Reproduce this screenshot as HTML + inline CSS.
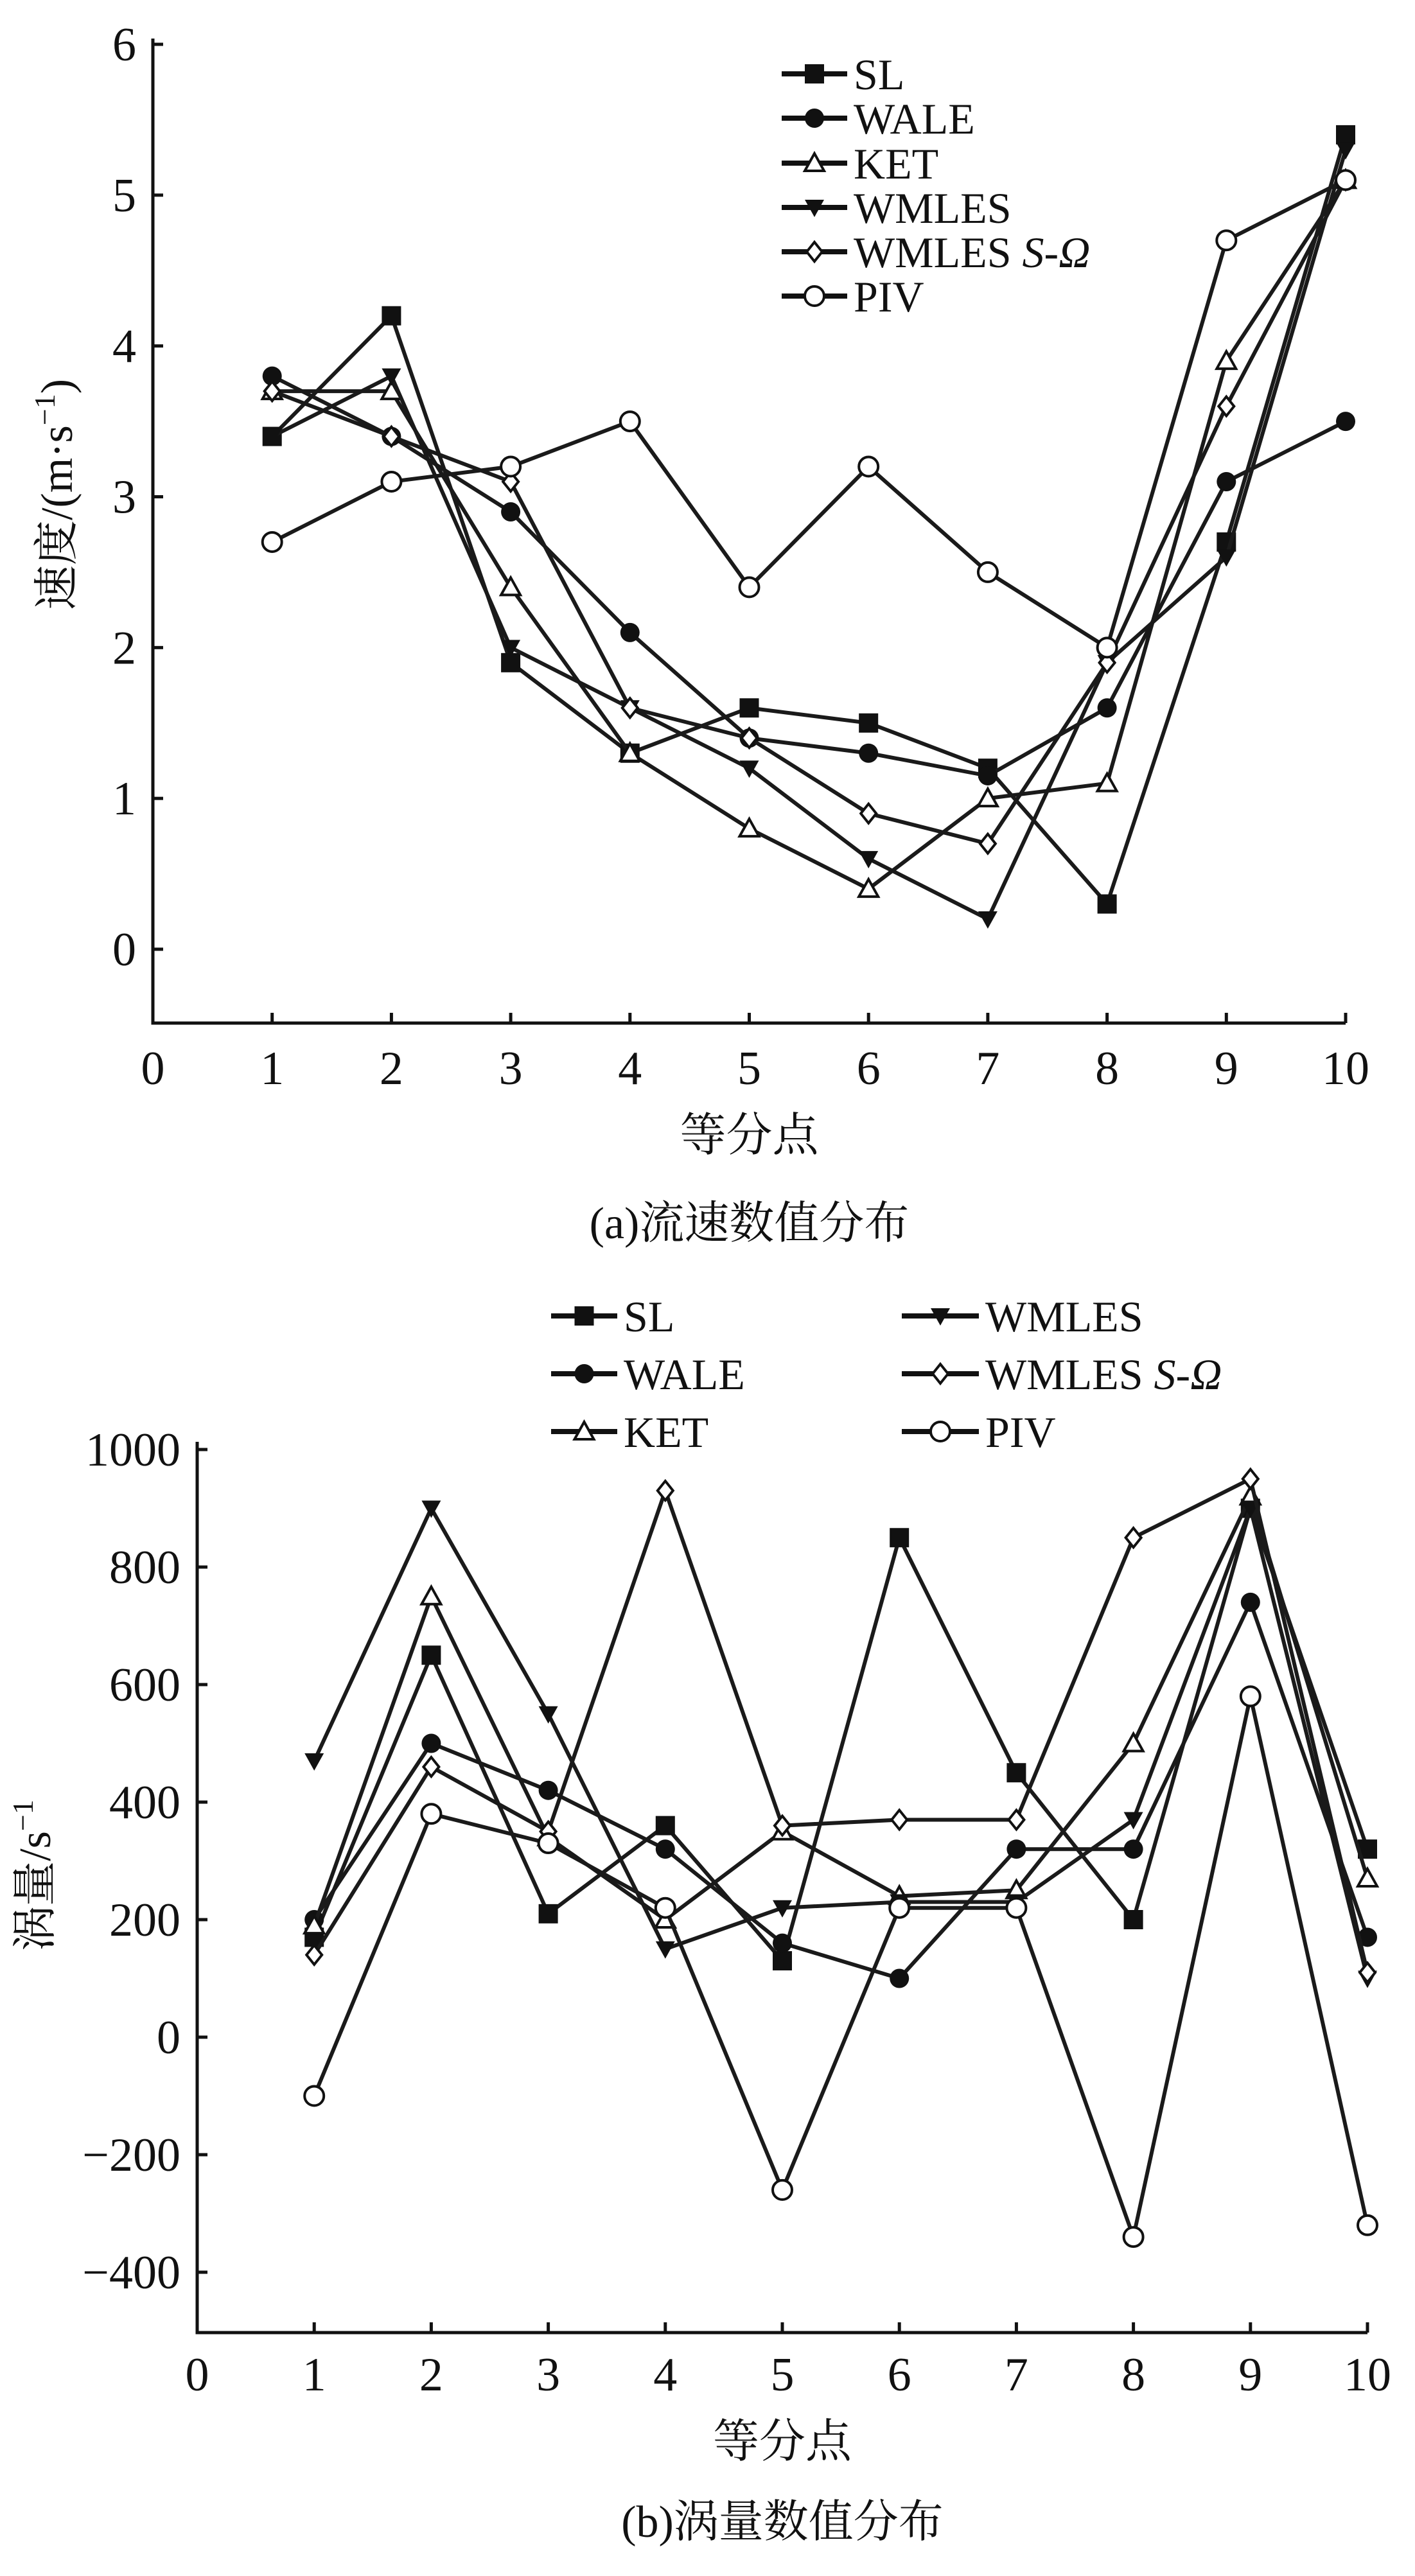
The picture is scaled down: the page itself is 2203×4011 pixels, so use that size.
<!DOCTYPE html>
<html><head><meta charset="utf-8"><style>
html,body{margin:0;padding:0;background:#fff;}
svg{display:block;font-family:"Liberation Serif","Noto Serif CJK SC",serif;}
</style></head><body>
<svg id="s" width="2203" height="4011" viewBox="0 0 2203 4011" xmlns="http://www.w3.org/2000/svg"></svg>
<script>
const xCats=[1,2,3,4,5,6,7,8,9,10];
const seriesNames=["SL","WALE","KET","WMLES","WMLES S-Ω","PIV"];
const markers=["square","circle","triangle","tridown","diamond","ocircle"];
// chart a
const aSL=[3.4,4.2,1.9,1.3,1.6,1.5,1.2,0.3,2.7,5.4];
const aWALE=[3.8,3.4,2.9,2.1,1.4,1.3,1.15,1.6,3.1,3.5];
const aKET=[3.7,3.7,2.4,1.3,0.8,0.4,1.0,1.1,3.9,5.1];
const aWMLES=[3.4,3.8,2.0,1.6,1.2,0.6,0.2,1.9,2.6,5.3];
const aWMLESSO=[3.7,3.4,3.1,1.6,1.4,0.9,0.7,1.9,3.6,5.1];
const aPIV=[2.7,3.1,3.2,3.5,2.4,3.2,2.5,2.0,4.7,5.1];
const aTicks=[0,1,2,3,4,5,6];
// chart b
const bSL=[170,650,210,360,130,850,450,200,900,320];
const bWALE=[200,500,420,320,160,100,320,320,740,170];
const bKET=[190,750,340,200,350,240,250,500,920,270];
const bWMLES=[470,900,550,150,220,230,230,370,900,100];
const bWMLESSO=[140,460,350,930,360,370,370,850,950,110];
const bPIV=[-100,380,330,220,-260,220,220,-340,580,-320];
const bTicks=[-400,-200,0,200,400,600,800,1000];
const xTicks=[0,1,2,3,4,5,6,7,8,9,10];

const svg=document.getElementById('s');
const NS="http://www.w3.org/2000/svg";
function mk(tag,attrs,parent){const e=document.createElementNS(NS,tag);for(const k in attrs)e.setAttribute(k,attrs[k]);(parent||svg).appendChild(e);return e;}
function txt(x,y,s,size,anchor,parent){const t=mk('text',{x:x,y:y,'font-size':size,'text-anchor':anchor||'middle',fill:'#111'},parent);t.textContent=s;return t;}
function marker(g,type,x,y,r){
  let e;
  if(type==='square')e=mk('rect',{x:x-r,y:y-r,width:2*r,height:2*r,fill:'#111'},g);
  else if(type==='circle')e=mk('circle',{cx:x,cy:y,r:r,fill:'#111'},g);
  else if(type==='triangle')e=mk('polygon',{points:`${x},${y-r} ${x-r},${y+r*0.8} ${x+r},${y+r*0.8}`,fill:'#fff',stroke:'#111','stroke-width':4},g);
  else if(type==='tridown')e=mk('polygon',{points:`${x-r},${y-r*0.8} ${x+r},${y-r*0.8} ${x},${y+r}`,fill:'#111'},g);
  else if(type==='diamond')e=mk('polygon',{points:`${x},${y-r} ${x+r*0.8},${y} ${x},${y+r} ${x-r*0.8},${y}`,fill:'#fff',stroke:'#111','stroke-width':4},g);
  else e=mk('circle',{cx:x,cy:y,r:r,fill:'#fff',stroke:'#111','stroke-width':4},g);
  
  
}
function chart(cfg){
  const g=mk('g',{});
  
  
  const X=v=>cfg.x0+(cfg.x10-cfg.x0)*v/10;
  const Y=v=>cfg.yA+(cfg.yB-cfg.yA)*(v-cfg.vA)/(cfg.vB-cfg.vA);
  const ax=mk('path',{d:`M${cfg.x0},${cfg.yTop} V${cfg.yBot} H${cfg.x10}`,stroke:'#111','stroke-width':5,fill:'none'},g);
  
  cfg.yTicks.forEach(v=>{mk('line',{x1:cfg.x0,x2:cfg.x0+16,y1:Y(v),y2:Y(v),stroke:'#111','stroke-width':5},g);
    const t=txt(cfg.x0-26,Y(v)+25,String(v).replace('-','−'),74,'end',g);
    });
  xTicks.forEach(v=>{mk('line',{x1:X(v),x2:X(v),y1:cfg.yBot,y2:cfg.yBot-16,stroke:'#111','stroke-width':5},g);
    const t=txt(X(v),cfg.xLabY,String(v),74,'middle',g);
    });
  cfg.data.forEach((d,i)=>{
    const pts=d.map((v,j)=>X(xCats[j])+','+Y(v)).join(' ');
    const pl=mk('polyline',{points:pts,fill:'none',stroke:'#1a1a1a','stroke-width':6},g);
    
    
    d.forEach((v,j)=>marker(g,markers[i],X(xCats[j]),Y(v),15));
  });
  cfg.legend.forEach((p,i)=>{
    const lg=mk('g',{},g);
    
    
    mk('line',{x1:p[0],x2:p[1],y1:p[2],y2:p[2],stroke:'#111','stroke-width':8},lg);
    marker(lg,markers[i],(p[0]+p[1])/2,p[2],15);
    const t=mk('text',{x:p[1]+10,y:p[2]+24,'font-size':68,fill:'#111'},lg);
    if(i===4){t.textContent='WMLES ';const ts=mk('tspan',{'font-style':'italic'},t);ts.textContent='S-Ω';}
    else t.textContent=seriesNames[i];
  });
  const xt=txt((cfg.x0+cfg.x10)/2,cfg.xTitleY,'等分点',72,'middle',g);
  
  const yt=mk('text',{x:0,y:0,'font-size':70,'text-anchor':'middle',fill:'#111',transform:`translate(${cfg.yTitleX},${cfg.yTitleY}) rotate(-90)`},g);
  
  yt.innerHTML=cfg.yTitle;
  const cp=txt((cfg.x0+cfg.x10)/2,cfg.capY,cfg.caption,70,'middle',g);
  
}
chart({name:'chart-a-velocity',x0:238,x10:2095,yTop:60,yBot:1593,vA:0,vB:6,yA:1478,yB:69,yTicks:aTicks,xLabY:1688,
  data:[aSL,aWALE,aKET,aWMLES,aWMLESSO,aPIV],
  legend:[[1217,1319,115],[1217,1319,184],[1217,1319,254],[1217,1319,323],[1217,1319,392],[1217,1319,461]],
  xTitleY:1792,yTitleX:112,yTitleY:770,yTitle:'速度/(m·s<tspan dy="-27" font-size="46">−1</tspan><tspan dy="27">)</tspan>',capY:1928,caption:'(a)流速数值分布'});
chart({name:'chart-b-vorticity',x0:307,x10:2129,yTop:2245,yBot:3632,vA:-400,vB:1000,yA:3538,yB:2257,yTicks:bTicks,xLabY:3722,
  data:[bSL,bWALE,bKET,bWMLES,bWMLESSO,bPIV],
  legend:[[858,961,2049],[858,961,2139],[858,961,2229],[1404,1524,2049],[1404,1524,2139],[1404,1524,2229]],
  xTitleY:3826,yTitleX:78,yTitleY:2920,yTitle:'涡量/s<tspan dy="-27" font-size="46">−1</tspan>',capY:3950,caption:'(b)涡量数值分布'});
</script>
</body></html>
